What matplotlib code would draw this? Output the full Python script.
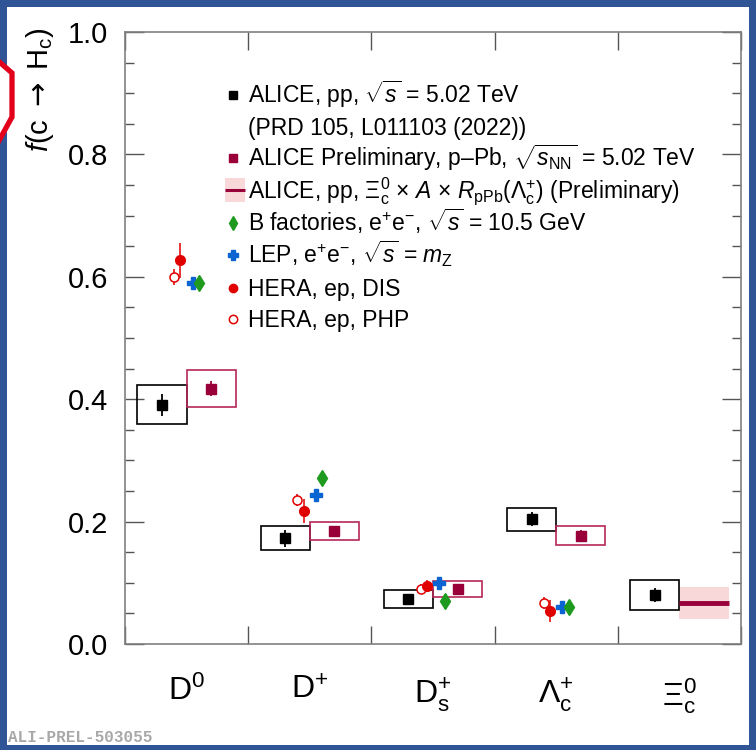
import matplotlib.pyplot as plt
from matplotlib.patches import Rectangle, Polygon
import numpy as np

plt.rcParams['font.family'] = 'Liberation Sans'
plt.rcParams['mathtext.fontset'] = 'custom'
plt.rcParams['mathtext.rm'] = 'Liberation Sans'
plt.rcParams['mathtext.it'] = 'Liberation Sans:italic'
plt.rcParams['mathtext.bf'] = 'Liberation Sans:bold'
plt.rcParams['mathtext.sf'] = 'DejaVu Sans'

hadrons = [r'$\mathrm{D}^{0}$', r'$\mathrm{D}^{+}$', r'$\mathrm{D}_{\mathrm{s}}^{+}$',
           r'$\Lambda_{\mathrm{c}}^{+}$', r'$\Xi_{\mathrm{c}}^{0}$']

# ALICE pp, 5.02 TeV
pp_val = [0.391, 0.173, 0.074, 0.204, 0.080]
pp_stat = [0.018, 0.014, 0.008, 0.011, 0.012]
pp_syst = [0.032, 0.019, 0.015, 0.019, 0.025]

# ALICE Preliminary p-Pb, 5.02 TeV (no Xi_c)
ppb_val = [0.417, 0.185, 0.090, 0.177]
ppb_stat = [0.012, 0.008, 0.005, 0.009]
ppb_syst = [0.030, 0.015, 0.013, 0.015]

# Xi_c0 estimate from pp x A x R_pPb(Lambda_c)
xic_val = 0.067
xic_unc = 0.026

# e+e- and ep measurements (D0, D+, Ds, Lambda_c)
bfac_val = [0.590, 0.271, 0.070, 0.061]
bfac_err = [0.012, 0.010, 0.005, 0.005]
lep_val = [0.590, 0.243, 0.100, 0.061]
lep_err = [0.010, 0.008, 0.006, 0.006]
hera_dis_val = [0.627, 0.217, 0.095, 0.054]
hera_dis_err = [0.029, 0.020, 0.010, 0.018]
hera_php_val = [0.600, 0.235, 0.090, 0.067]
hera_php_err = [0.013, 0.010, 0.008, 0.010]

legend_labels = [
    r'ALICE, pp, $\sqrt{s}$ = 5.02 TeV',
    '(PRD 105, L011103 (2022))',
    r'ALICE Preliminary, p–Pb, $\sqrt{s_{\mathrm{NN}}}$ = 5.02 TeV',
    r'ALICE, pp, $\Xi_{\mathrm{c}}^{0}$ $\times$ $A$ $\times$ $R_{\mathrm{pPb}}(\Lambda_{\mathrm{c}}^{+})$ (Preliminary)',
    r'B factories, e$^{+}$e$^{-}$, $\sqrt{s}$ = 10.5 GeV',
    r'LEP, e$^{+}$e$^{-}$, $\sqrt{s}$ = $m_{\mathrm{Z}}$',
    'HERA, ep, DIS',
    'HERA, ep, PHP',
]

BLACK = 'black'
CRIMSON = '#99003a'
CRIMSON_BOX = '#b5275a'
PINK = '#f8d8d8'
RED = '#e00000'
BLUE = '#0a64d2'
GREEN = '#1e9a1e'

W, H = 756, 750
fig = plt.figure(figsize=(W / 100, H / 100), dpi=100)
fig.patch.set_facecolor('#2f5597')
fig.patches.append(Rectangle((7 / W, 5 / H), (749 - 7) / W, (743 - 5) / H,
                             transform=fig.transFigure, facecolor='white',
                             edgecolor='none', zorder=-10))
# logo edge sticking in on the left
logo = [(-20, 45), (12, 73), (12, 117), (-20, 175), (-60, 175), (-60, 45)]
fig.patches.append(Polygon([(x / W, 1 - y / H) for x, y in logo], closed=True,
                           transform=fig.transFigure, facecolor='white',
                           edgecolor='#e3001b', linewidth=3.8, zorder=-5))

ax = fig.add_axes([125 / W, (H - 644) / H, (741 - 125) / W, (644 - 32) / H])
ax.set_xlim(0, 5)
ax.set_ylim(0, 1)

centers = np.arange(5) + 0.5
c4 = centers[:4]

# systematic boxes
for c, v, s in zip(centers, pp_val, pp_syst):
    ax.add_patch(Rectangle((c - 0.4, v - s), 0.4, 2 * s, fill=False,
                           edgecolor=BLACK, linewidth=1.2, zorder=2))
for c, v, s in zip(c4, ppb_val, ppb_syst):
    ax.add_patch(Rectangle((c, v - s), 0.4, 2 * s, fill=False,
                           edgecolor=CRIMSON_BOX, linewidth=1.2, zorder=2))
ax.add_patch(Rectangle((centers[4], xic_val - xic_unc), 0.4, 2 * xic_unc,
                       facecolor=PINK, edgecolor='none', zorder=1))
ax.plot([centers[4], centers[4] + 0.4], [xic_val, xic_val], color=CRIMSON,
        linewidth=3.5, solid_capstyle='butt', zorder=3)

ax.errorbar(centers - 0.2, pp_val, yerr=pp_stat, fmt='s', color=BLACK,
            ms=7, elinewidth=1.3, capsize=0, zorder=4)
ax.errorbar(c4 + 0.2, ppb_val, yerr=ppb_stat, fmt='s', color=CRIMSON,
            ms=7, elinewidth=1.3, capsize=0, zorder=4)
ax.errorbar(c4 - 0.1, hera_php_val, yerr=hera_php_err, fmt='o', color=RED,
            mfc='white', mec=RED, mew=1.1, ms=6.5, elinewidth=1.1, capsize=0, zorder=4)
ax.errorbar(c4 - 0.05, hera_dis_val, yerr=hera_dis_err, fmt='o', color=RED,
            ms=7, elinewidth=1.1, capsize=0, zorder=5)
ax.errorbar(c4 + 0.05, lep_val, yerr=lep_err, fmt='P', color=BLUE,
            ms=8, elinewidth=1.1, capsize=0, zorder=4)
ax.errorbar(c4 + 0.1, bfac_val, yerr=bfac_err, fmt='d', color=GREEN,
            ms=8, elinewidth=1.1, capsize=0, zorder=4)

# axes and ticks
for sp in ax.spines.values():
    sp.set_color('#808080')
    sp.set_linewidth(1.2)
ax.set_xticks(np.arange(6))
ax.set_xticklabels([])
ax.set_xticks(centers, minor=True)
ax.set_xticklabels(hadrons, minor=True, fontsize=23)
ax.tick_params(axis='x', which='major', direction='in', length=13, width=1,
               top=True, bottom=True, color='#555555')
ax.tick_params(axis='x', which='minor', length=0, pad=23)
ax.set_yticks(np.arange(0, 1.01, 0.2))
ax.set_yticks(np.arange(0, 1.001, 0.05), minor=True)
ax.yaxis.set_major_formatter('{x:.1f}')
ax.tick_params(axis='y', which='major', direction='in', length=13.5, width=1,
               left=True, right=True, labelsize=21, pad=12, color='#555555')
ax.tick_params(axis='y', which='minor', direction='in', length=6.5, width=1,
               left=True, right=True, color='#555555')

fig.text(40 / W, 1 - 27 / H, r'$f$(c $\mathsf{\rightarrow}$ H$_{\mathrm{c}}$)',
         rotation=90, ha='center', va='top', fontsize=21)

# legend, drawn row by row
def ax_x(px):
    return (px - 125) / 616


def ax_y(py):
    return (644 - py) / 612


rows = [95, 127, 158, 190, 222.5, 255, 288, 319]
mx = ax_x(233)
tr = ax.transAxes
ax.plot([mx], [ax_y(rows[0])], 's', color=BLACK, ms=6, transform=tr, clip_on=False)
ax.plot([mx], [ax_y(rows[2])], 's', color=CRIMSON, ms=6, transform=tr, clip_on=False)
ax.add_patch(Rectangle((ax_x(225), ax_y(rows[3] + 12)), ax_x(245) - ax_x(225), 24 / 612,
                       transform=tr, facecolor=PINK, edgecolor='none', clip_on=False))
ax.plot([ax_x(225), ax_x(245)], [ax_y(rows[3])] * 2, color=CRIMSON, lw=2.2,
        solid_capstyle='butt', transform=tr, clip_on=False)
ax.plot([mx], [ax_y(rows[4])], 'd', color=GREEN, ms=7, transform=tr, clip_on=False)
ax.plot([mx], [ax_y(rows[5])], 'P', color=BLUE, ms=7, transform=tr, clip_on=False)
ax.plot([mx], [ax_y(rows[6])], 'o', color=RED, ms=6, transform=tr, clip_on=False)
ax.plot([mx], [ax_y(rows[7])], 'o', color=RED, mfc='white', mew=1.1, ms=6,
        transform=tr, clip_on=False)
for yc, lab in zip(rows, legend_labels):
    ax.text(ax_x(248), ax_y(yc + 8), lab, transform=tr, fontsize=16.5,
            ha='left', va='baseline')

fig.text(8 / W, 8 / H, 'ALI-PREL-503055', family='Liberation Mono',
         fontweight='bold', fontsize=11.5, color='#a8a8a8', ha='left', va='baseline')

fig.savefig('out.png', dpi=100)
